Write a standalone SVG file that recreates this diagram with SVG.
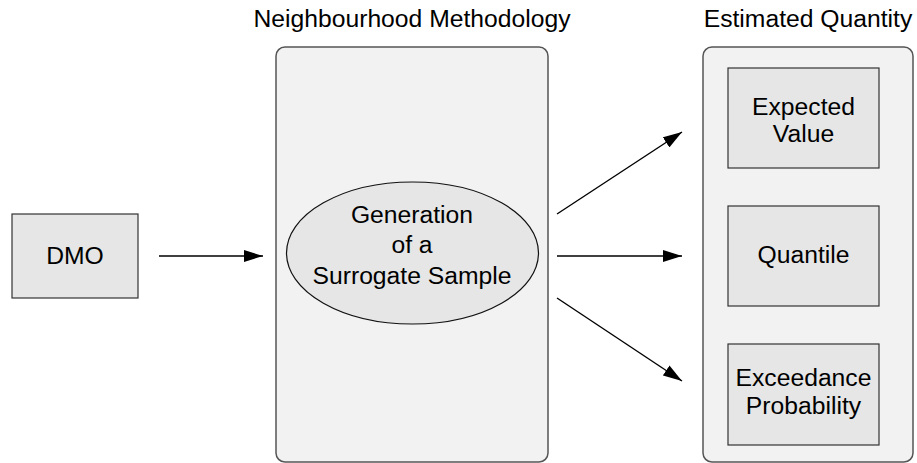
<svg xmlns="http://www.w3.org/2000/svg" width="917" height="463" viewBox="0 0 917 463">
  <style>
    text { font-family: "Liberation Sans", Arial, sans-serif; font-size: 24.7px; fill: #000; text-anchor: middle; }
    .panel { fill: #f2f2f2; stroke: #555; stroke-width: 1.5; }
    .box { fill: #e6e6e6; stroke: #333; stroke-width: 1.2; }
    .oval { fill: #e6e6e6; stroke: #111; stroke-width: 1.2; }
    .edge { stroke: #000; stroke-width: 1.4; fill: none; marker-end: url(#head); }
  </style>
  <defs>
    <marker id="head" viewBox="0 0 19 12" refX="19" refY="6" markerWidth="19" markerHeight="12" markerUnits="userSpaceOnUse" orient="auto">
      <path d="M0,0 L19,6 L0,12 Z" fill="#000"/>
    </marker>
  </defs>
  <rect width="917" height="463" fill="#fff"/>

  <!-- panel titles -->
  <text x="412" y="27">Neighbourhood Methodology</text>
  <text x="808" y="27">Estimated Quantity</text>

  <!-- panels -->
  <rect class="panel" x="276" y="47" width="272" height="415" rx="9" ry="9"/>
  <rect class="panel" x="703" y="47" width="210" height="415" rx="9" ry="9"/>

  <g id="dmo">
    <rect class="box" x="12" y="214" width="126" height="84"/>
    <text x="75" y="264">DMO</text>
  </g>

  <g id="surrogate">
    <ellipse class="oval" cx="412.5" cy="253" rx="126" ry="71"/>
    <text x="412" y="223">Generation</text>
    <text x="412" y="253">of a</text>
    <text x="412" y="284">Surrogate Sample</text>
  </g>

  <g id="expected">
    <rect class="box" x="728" y="68" width="151" height="100"/>
    <text x="803.5" y="115">Expected</text>
    <text x="803.5" y="142">Value</text>
  </g>

  <g id="quantile">
    <rect class="box" x="728" y="206" width="151" height="100"/>
    <text x="803.5" y="263">Quantile</text>
  </g>

  <g id="exceedance">
    <rect class="box" x="728" y="344" width="151" height="101"/>
    <text x="803.5" y="386">Exceedance</text>
    <text x="803.5" y="414">Probability</text>
  </g>

  <g id="connectors">
    <line class="edge" x1="159" y1="256" x2="263" y2="256"/>
    <line class="edge" x1="557" y1="214" x2="682" y2="132"/>
    <line class="edge" x1="557" y1="256" x2="682" y2="256"/>
    <line class="edge" x1="557" y1="298" x2="682" y2="381"/>
  </g>
</svg>
